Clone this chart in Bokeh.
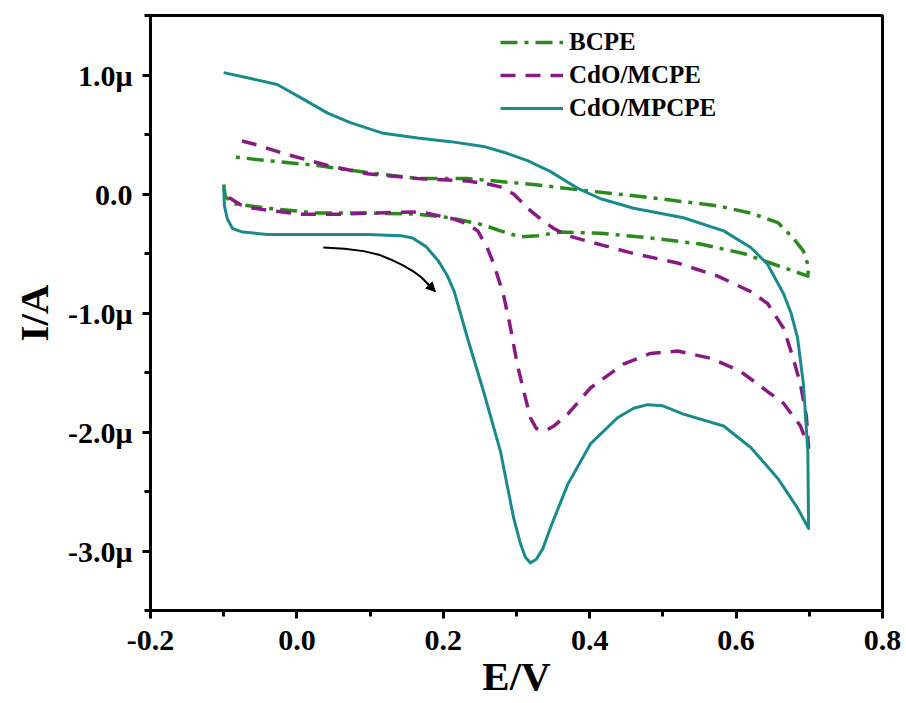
from bokeh.plotting import figure
from bokeh.models import (Range1d, FixedTicker, Legend, LegendItem, Arrow, NormalHead)
from bokeh.embed import file_html
from bokeh.resources import INLINE

# Cyclic voltammograms: potential E (V) and current I (microamps)
# BCPE (bare carbon paste electrode)
e_bcpe = [-0.100, -0.098, -0.087, -0.040, 0.028, 0.096, 0.165, 0.210, 0.255, 0.278,
          0.305, 0.329, 0.360, 0.415, 0.483, 0.551, 0.610, 0.647, 0.698,
          0.699, 0.692, 0.678, 0.657, 0.620, 0.575, 0.483, 0.392, 0.323, 0.233,
          0.165, 0.096, 0.028, -0.040, -0.084]
i_bcpe = [0.08, -0.02, -0.08, -0.12, -0.16, -0.16, -0.17, -0.20, -0.26, -0.31,
          -0.36, -0.35, -0.32, -0.33, -0.37, -0.42, -0.50, -0.58, -0.69,
          -0.61, -0.48, -0.37, -0.24, -0.16, -0.10, -0.03, 0.03, 0.08, 0.13,
          0.13, 0.18, 0.24, 0.28, 0.31]

# CdO/MCPE
e_mcpe = [-0.093, -0.077, -0.059, -0.036, 0.005, 0.060, 0.105, 0.169, 0.214, 0.233,
          0.247, 0.260, 0.269, 0.282, 0.292, 0.301, 0.310, 0.319, 0.327, 0.340,
          0.351, 0.370, 0.401, 0.446, 0.483, 0.520, 0.565, 0.606, 0.643, 0.665,
          0.688, 0.699,
          0.696, 0.688, 0.678, 0.665, 0.643, 0.620, 0.575, 0.520, 0.460, 0.405,
          0.370, 0.351, 0.333, 0.319, 0.296, 0.278, 0.264, 0.233, 0.165, 0.096,
          0.042, -0.018, -0.059, -0.084]
i_mcpe = [-0.03, -0.09, -0.12, -0.14, -0.17, -0.17, -0.16, -0.15, -0.21, -0.25,
          -0.31, -0.45, -0.59, -0.84, -1.13, -1.43, -1.66, -1.88, -1.97, -1.99,
          -1.95, -1.85, -1.63, -1.43, -1.34, -1.32, -1.38, -1.49, -1.66, -1.76,
          -1.95, -2.13,
          -1.87, -1.60, -1.38, -1.13, -0.92, -0.82, -0.69, -0.58, -0.50, -0.41,
          -0.35, -0.29, -0.21, -0.14, 0.00, 0.06, 0.08, 0.11, 0.13, 0.17,
          0.24, 0.34, 0.42, 0.46]

# CdO/MPCPE
e_mpcpe = [-0.100, -0.099, -0.095, -0.088, -0.074, -0.040, 0.005, 0.050, 0.096, 0.142,
           0.158, 0.176, 0.193, 0.205, 0.215, 0.233, 0.255, 0.278, 0.296, 0.305,
           0.312, 0.319, 0.327, 0.336, 0.346, 0.370, 0.401, 0.438, 0.460, 0.479,
           0.500, 0.528, 0.583, 0.620, 0.657, 0.684, 0.699,
           0.698, 0.692, 0.684, 0.675, 0.665, 0.643, 0.620, 0.583, 0.528, 0.460,
           0.415, 0.383, 0.346, 0.315, 0.288, 0.255, 0.210, 0.165, 0.118, 0.073,
           0.042, 0.005, -0.027, -0.063, -0.100]
i_mpcpe = [0.05, -0.10, -0.21, -0.29, -0.32, -0.34, -0.34, -0.34, -0.34, -0.35,
           -0.37, -0.44, -0.56, -0.68, -0.82, -1.21, -1.66, -2.16, -2.72, -2.93,
           -3.05, -3.10, -3.07, -2.98, -2.81, -2.44, -2.10, -1.88, -1.80, -1.77,
           -1.78, -1.85, -1.95, -2.13, -2.39, -2.64, -2.81,
           -2.16, -1.60, -1.21, -1.00, -0.84, -0.59, -0.45, -0.31, -0.20, -0.12,
           -0.04, 0.05, 0.19, 0.28, 0.34, 0.40, 0.44, 0.47, 0.51, 0.60,
           0.68, 0.81, 0.92, 0.97, 1.02]

# scan-direction arrow
arrow_e = [0.036, 0.065, 0.091, 0.112, 0.128, 0.145, 0.159, 0.170, 0.178, 0.189]
arrow_i = [-0.45, -0.46, -0.48, -0.51, -0.55, -0.60, -0.65, -0.70, -0.75, -0.82]

x_ticks = [-0.2, 0.0, 0.2, 0.4, 0.6, 0.8]
x_tick_labels = ["-0.2", "0.0", "0.2", "0.4", "0.6", "0.8"]
x_minor = [-0.1, 0.1, 0.3, 0.5, 0.7]
y_ticks = [-3, -2, -1, 0, 1]
y_tick_labels = ["-3.0\u03bc", "-2.0\u03bc", "-1.0\u03bc", "0.0", "1.0\u03bc"]
y_minor = [-3.5, -2.5, -1.5, -0.5, 0.5, 1.5]

FONT = "Liberation Serif"

p = figure(width=906, height=703, output_backend="svg", toolbar_location=None,
           x_range=Range1d(-0.2, 0.8), y_range=Range1d(-3.5, 1.5),
           min_border_left=150, min_border_right=24, min_border_top=15,
           min_border_bottom=93)
p.grid.visible = False
p.outline_line_color = "black"
p.outline_line_width = 3
p.background_fill_color = "white"
p.border_fill_color = "white"

for ax in (p.xaxis[0], p.yaxis[0]):
    ax.axis_line_width = 3
    ax.major_tick_line_width = 3
    ax.minor_tick_line_width = 3
    ax.major_tick_out = 8
    ax.major_tick_in = 0
    ax.minor_tick_out = 6
    ax.minor_tick_in = 0
    ax.major_label_text_font = FONT
    ax.major_label_text_font_style = "bold"
    ax.major_label_text_font_size = "30px"
    ax.major_label_text_color = "black"
    ax.axis_label_text_font = FONT
    ax.axis_label_text_font_style = "bold"
    ax.axis_label_text_font_size = "41px"
    ax.axis_label_text_color = "black"

p.xaxis[0].ticker = FixedTicker(ticks=x_ticks, minor_ticks=x_minor)
p.xaxis[0].major_label_overrides = dict(zip(x_ticks, x_tick_labels))
p.xaxis[0].major_label_standoff = 12
p.xaxis[0].axis_label = "E/V"
p.xaxis[0].axis_label_standoff = 0

p.yaxis[0].ticker = FixedTicker(ticks=y_ticks, minor_ticks=y_minor)
p.yaxis[0].major_label_overrides = dict(zip(y_ticks, y_tick_labels))
p.yaxis[0].major_label_standoff = 10
p.yaxis[0].axis_label = "I/A"
p.yaxis[0].axis_label_standoff = 8

GREEN = "#2b8a1c"
PURPLE = "#871a85"
TEAL = "#1c8a8c"

r_b = p.line(e_bcpe, i_bcpe, line_color=GREEN, line_width=3.5, line_dash="17 7 4 7",
             line_join="round")
r_m = p.line(e_mcpe, i_mcpe, line_color=PURPLE, line_width=3.5, line_dash="15 10",
             line_join="round")
r_p = p.line(e_mpcpe, i_mpcpe, line_color=TEAL, line_width=3, line_join="round")

p.line(arrow_e, arrow_i, line_color="black", line_width=2, line_join="round")
p.add_layout(Arrow(end=NormalHead(size=9, fill_color="black", line_color="black"),
                   x_start=arrow_e[-2], y_start=arrow_i[-2],
                   x_end=arrow_e[-1], y_end=arrow_i[-1],
                   line_color="black", line_width=2))

legend = Legend(items=[LegendItem(label="BCPE", renderers=[r_b]),
                       LegendItem(label="CdO/MCPE", renderers=[r_m]),
                       LegendItem(label="CdO/MPCPE", renderers=[r_p])],
                location=(350, 487), glyph_width=63, glyph_height=30,
                label_height=30, spacing=3, padding=0, margin=0,
                label_standoff=6, border_line_alpha=0, background_fill_alpha=0,
                label_text_font=FONT, label_text_font_style="bold",
                label_text_font_size="25px", label_text_color="black")
p.add_layout(legend)

open("out.html", "w").write(file_html(p, INLINE))
